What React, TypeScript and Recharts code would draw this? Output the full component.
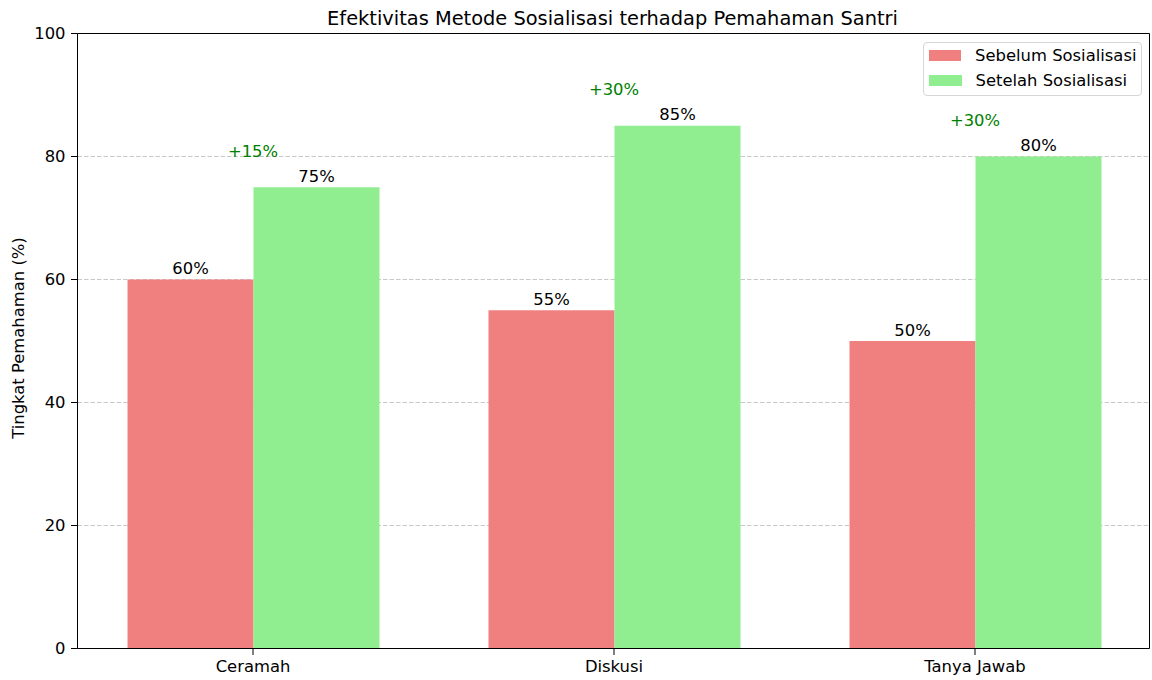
import React from "react";
import {
  BarChart,
  Bar,
  XAxis,
  YAxis,
  CartesianGrid,
  Legend,
  LabelList,
  ReferenceDot,
} from "recharts";

// Chart values
const categories = ["Ceramah", "Diskusi", "Tanya Jawab"];
const sebelumValues = [60, 55, 50];
const setelahValues = [75, 85, 80];
const seriesNames = ["Sebelum Sosialisasi", "Setelah Sosialisasi"];
const yTicks = [0, 20, 40, 60, 80, 100];

const chartData = categories.map((name, i) => ({
  name,
  sebelum: sebelumValues[i],
  setelah: setelahValues[i],
}));

const FONT = "'DejaVu Sans', sans-serif";
const FONT_SIZE = 16.4;
const TITLE = "Efektivitas Metode Sosialisasi terhadap Pemahaman Santri";

const renderLegend = (props: any) => {
  const { payload } = props;
  return (
    <div
      style={{
        boxSizing: "border-box",
        width: 219,
        height: 54,
        border: "1px solid #d6d6d6",
        borderRadius: 4,
        background: "rgba(255,255,255,0.8)",
        padding: "0 4px 0 5px",
        fontFamily: FONT,
        fontSize: FONT_SIZE,
        color: "#000",
        whiteSpace: "nowrap",
      }}
    >
      {(payload || []).map((entry: any) => (
        <div
          key={entry.value}
          style={{ display: "flex", alignItems: "center", height: 25 }}
        >
          <span
            style={{
              display: "inline-block",
              width: 33,
              height: 11.7,
              background: entry.color,
              marginRight: 14,
            }}
          />
          <span>{entry.value}</span>
        </div>
      ))}
    </div>
  );
};

const renderYLabel = (props: any) => {
  const vb = props.viewBox || { x: 0, y: 0, width: 0, height: 0 };
  const x = vb.x + 24.3;
  const y = vb.y + vb.height / 2 - 3;
  return (
    <text
      x={x}
      y={y}
      transform={`rotate(-90, ${x}, ${y})`}
      textAnchor="middle"
      fill="#000"
      fontFamily={FONT}
      fontSize={FONT_SIZE}
    >
      Tingkat Pemahaman (%)
    </text>
  );
};

const App: React.FC = () => {
  const tickStyle = { fill: "#000", fontSize: FONT_SIZE, fontFamily: FONT };
  return (
    <div style={{ position: "absolute", left: 0, top: 0, width: 1152, height: 680 }}>
      <BarChart
        width={1152}
        height={680}
        data={chartData}
        margin={{ top: 32.5, right: 1.5, bottom: 0, left: 0 }}
        barGap={0}
        barSize={126}
      >
        <CartesianGrid
          vertical={false}
          stroke="#c8c8c8"
          strokeDasharray="4.5 2"
        />
        <XAxis
          dataKey="name"
          height={31.5}
          interval={0}
          padding={{ left: -5, right: -6 }}
          tick={tickStyle}
          tickSize={6.5}
          tickMargin={5}
          tickLine={{ stroke: "#000" }}
          axisLine={{ stroke: "#000" }}
        />
        <XAxis
          xAxisId="top"
          orientation="top"
          dataKey="name"
          height={1}
          tick={false}
          tickLine={false}
          axisLine={{ stroke: "#000" }}
        />
        <YAxis
          width={77.5}
          domain={[0, 100]}
          ticks={yTicks}
          interval={0}
          tick={tickStyle}
          tickSize={6.5}
          tickMargin={5.5}
          tickLine={{ stroke: "#000" }}
          axisLine={{ stroke: "#000" }}
          label={renderYLabel}
        />
        <YAxis
          yAxisId="right"
          orientation="right"
          width={1}
          domain={[0, 100]}
          tick={false}
          tickLine={false}
          axisLine={{ stroke: "#000" }}
        />
        <Legend
          layout="horizontal"
          verticalAlign="middle"
          align="center"
          width={219}
          wrapperStyle={{ left: 922.5, top: 42, width: 219 }}
          content={renderLegend}
        />
        <Bar
          dataKey="sebelum"
          name={seriesNames[0]}
          fill="#F08080"
          isAnimationActive={false}
        >
          <LabelList
            dataKey="sebelum"
            position="top"
            offset={5.5}
            formatter={(v: any) => `${v}%`}
            fill="#000"
            fontSize={FONT_SIZE}
            fontFamily={FONT}
          />
        </Bar>
        <Bar
          dataKey="setelah"
          name={seriesNames[1]}
          fill="#90EE90"
          isAnimationActive={false}
        >
          <LabelList
            dataKey="setelah"
            position="top"
            offset={5.5}
            formatter={(v: any) => `${v}%`}
            fill="#000"
            fontSize={FONT_SIZE}
            fontFamily={FONT}
          />
        </Bar>
        {categories.map((cat, i) => (
          <ReferenceDot
            key={cat}
            x={cat}
            y={setelahValues[i] + 5}
            r={0}
            stroke="none"
            fill="none"
            label={{
              value: `+${setelahValues[i] - sebelumValues[i]}%`,
              position: "top",
              offset: 0,
              fill: "#008000",
              fontSize: FONT_SIZE,
              fontFamily: FONT,
            }}
          />
        ))}
      </BarChart>
      <svg
        width={1152}
        height={40}
        style={{ position: "absolute", left: 0, top: 0, pointerEvents: "none" }}
      >
        <text
          x={612.5}
          y={25}
          textAnchor="middle"
          fill="#000"
          fontFamily={FONT}
          fontSize={19.4}
        >
          {TITLE}
        </text>
      </svg>
    </div>
  );
};

export default App;
